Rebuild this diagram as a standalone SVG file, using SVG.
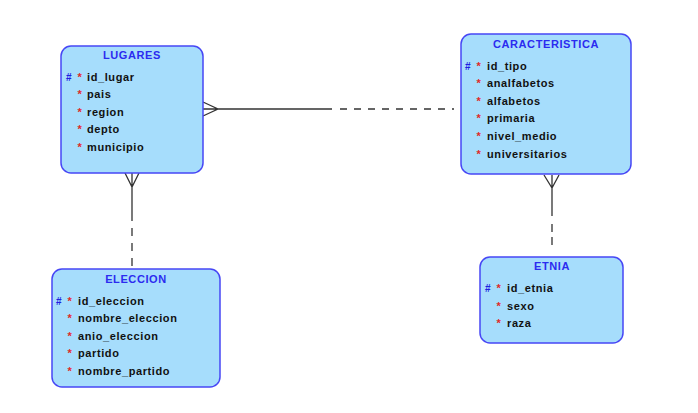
<svg xmlns="http://www.w3.org/2000/svg" width="698" height="413" viewBox="0 0 698 413">
<style>
.box{fill:#a6ddfc;stroke:#4747f5;stroke-width:1.5}
.title{font-family:"Liberation Sans",Arial,sans-serif;font-size:11px;font-weight:bold;fill:#2b2bf0;text-anchor:middle;letter-spacing:0.6px}
.attr{font-family:"Liberation Sans",Arial,sans-serif;font-size:11px;font-weight:bold;fill:#111;letter-spacing:0.6px}
.pk{font-family:"Liberation Sans",Arial,sans-serif;font-size:10px;font-weight:bold;fill:#2020e0}
.req{font-family:"Liberation Sans",Arial,sans-serif;font-size:11px;font-weight:bold;fill:#e02828}
.ln{stroke:#333;stroke-width:1.3;fill:none}
.dash{stroke:#333;stroke-width:1.3;fill:none;stroke-dasharray:7 7}
</style>
<rect width="698" height="413" fill="#fff"/>
<g id="connectors">
  <path class="ln" d="M203,102 L218,109 L203,116 M203,109 L332,109"/>
  <path class="dash" d="M340,109 L454,109"/>
  <path class="ln" d="M125,173 L132,187 L139,173 M132,173 L132,221"/>
  <path class="dash" d="M132,228 L132,268" style="stroke-dasharray:8 7"/>
  <path class="ln" d="M544,175 L552,188 L559,175 M552,175 L552,216"/>
  <path class="dash" d="M552,224 L552,250" style="stroke-dasharray:8 5"/>
</g>
<g id="lugares">
  <rect class="box" x="61" y="46" width="142" height="127" rx="10"/>
  <text class="title" x="132" y="59">LUGARES</text>
  <text class="pk" x="66" y="81">#</text>
  <text class="req" x="77.5" y="80.5">*</text><text class="attr" x="87" y="81">id_lugar</text>
  <text class="req" x="77.5" y="97.5">*</text><text class="attr" x="87" y="98">pais</text>
  <text class="req" x="77.5" y="115.5">*</text><text class="attr" x="87" y="116">region</text>
  <text class="req" x="77.5" y="132.5">*</text><text class="attr" x="87" y="133">depto</text>
  <text class="req" x="77.5" y="150.5">*</text><text class="attr" x="87" y="151">municipio</text>
</g>
<g id="caracteristica">
  <rect class="box" x="461" y="34" width="170" height="140" rx="10"/>
  <text class="title" x="546" y="48">CARACTERISTICA</text>
  <text class="pk" x="465" y="70">#</text>
  <text class="req" x="476.5" y="69.5">*</text><text class="attr" x="487" y="70">id_tipo</text>
  <text class="req" x="476.5" y="86.5">*</text><text class="attr" x="487" y="87">analfabetos</text>
  <text class="req" x="476.5" y="104.5">*</text><text class="attr" x="487" y="105">alfabetos</text>
  <text class="req" x="476.5" y="121.5">*</text><text class="attr" x="487" y="122">primaria</text>
  <text class="req" x="476.5" y="139.5">*</text><text class="attr" x="487" y="140">nivel_medio</text>
  <text class="req" x="476.5" y="157.5">*</text><text class="attr" x="487" y="158">universitarios</text>
</g>
<g id="eleccion">
  <rect class="box" x="52" y="269" width="168" height="118" rx="10"/>
  <text class="title" x="136" y="283">ELECCION</text>
  <text class="pk" x="56" y="305">#</text>
  <text class="req" x="67.5" y="304.5">*</text><text class="attr" x="78" y="305">id_eleccion</text>
  <text class="req" x="67.5" y="321.5">*</text><text class="attr" x="78" y="322">nombre_eleccion</text>
  <text class="req" x="67.5" y="339.5">*</text><text class="attr" x="78" y="340">anio_eleccion</text>
  <text class="req" x="67.5" y="356.5">*</text><text class="attr" x="78" y="357">partido</text>
  <text class="req" x="67.5" y="374.5">*</text><text class="attr" x="78" y="375">nombre_partido</text>
</g>
<g id="etnia">
  <rect class="box" x="480" y="257" width="143" height="86" rx="10"/>
  <text class="title" x="552" y="270">ETNIA</text>
  <text class="pk" x="485" y="292">#</text>
  <text class="req" x="496.5" y="291.5">*</text><text class="attr" x="507" y="292">id_etnia</text>
  <text class="req" x="496.5" y="309.5">*</text><text class="attr" x="507" y="310">sexo</text>
  <text class="req" x="496.5" y="326.5">*</text><text class="attr" x="507" y="327">raza</text>
</g>
</svg>
